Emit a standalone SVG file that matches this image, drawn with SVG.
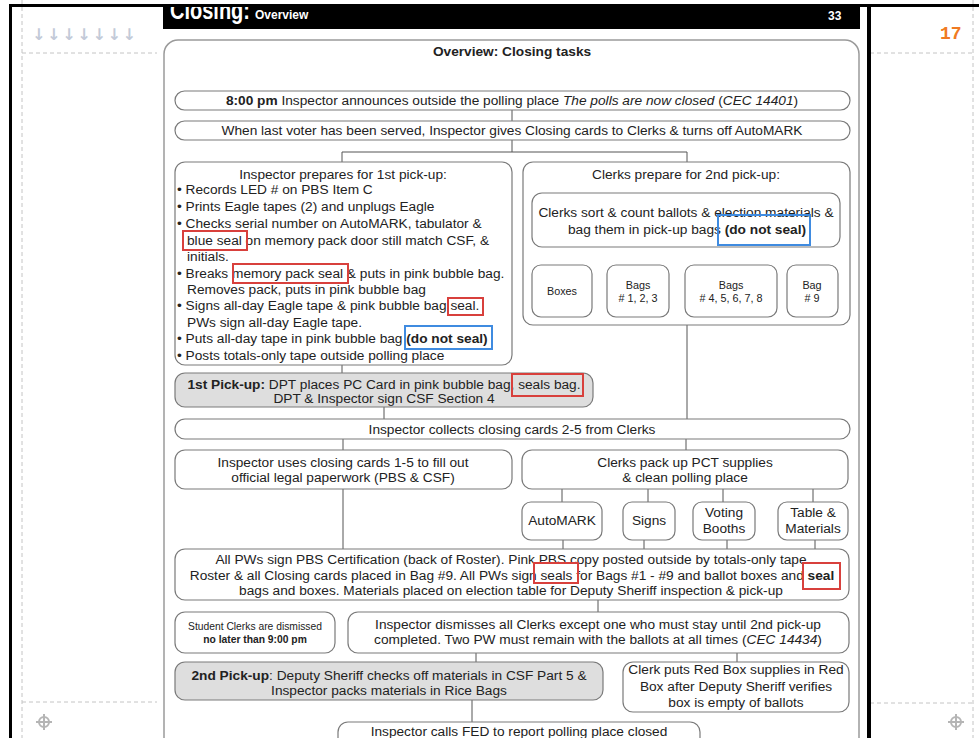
<svg xmlns="http://www.w3.org/2000/svg" width="979" height="738" viewBox="0 0 979 738">
<defs>
<style>
text{font-family:"Liberation Sans",Arial,sans-serif;fill:#222;font-size:13.7px}
.c{text-anchor:middle}
.b{font-weight:bold}
.i{font-style:italic}
.box{fill:#fff;stroke:#7a7a7a;stroke-width:1.2}
.gbox{fill:#dedede;stroke:#7a7a7a;stroke-width:1.2}
.red{fill:none;stroke:#d8403c;stroke-width:2}
.blue{fill:none;stroke:#3f8be0;stroke-width:2}
.dash{stroke:#c4c4c4;stroke-width:1;stroke-dasharray:4 3;fill:none}
#connectors line,#connectors path{stroke:#555;stroke-width:1;fill:none}
.sm{font-size:10.8px}
</style>
<marker id="ah" viewBox="0 0 6 6" refX="3" refY="6" markerWidth="6" markerHeight="6" orient="auto" markerUnits="userSpaceOnUse">
<path d="M0,0 L6,0 L3,6 Z" fill="#333"/>
</marker>
<clipPath id="hdr"><rect x="163" y="7" width="697" height="22"/></clipPath>
</defs>
<rect width="979" height="738" fill="#fff"/>

<!-- outer page chrome -->
<g id="chrome">
<line class="dash" x1="22" y1="0" x2="22" y2="738"/>
<line class="dash" x1="973" y1="0" x2="973" y2="738"/>
<line class="dash" x1="22" y1="53" x2="157" y2="53"/>
<line class="dash" x1="870" y1="53" x2="973" y2="53"/>
<line class="dash" x1="22" y1="702" x2="157" y2="702"/>
<line class="dash" x1="870" y1="703" x2="973" y2="703"/>
<text x="32" y="40" style="fill:#c3cad8;font-size:16px;font-weight:bold;font-family:'DejaVu Sans',sans-serif" textLength="104" lengthAdjust="spacing">↓↓↓↓↓↓↓</text>
<text x="940" y="39" style="fill:#f07a22;font-size:18px;font-weight:bold;font-family:'Liberation Mono','DejaVu Sans Mono',monospace">17</text>
<g stroke="#b5b5b5" stroke-width="2" fill="none">
<circle cx="44" cy="722" r="5"/><line x1="36" y1="722" x2="52" y2="722"/><line x1="44" y1="714" x2="44" y2="730"/>
<circle cx="956" cy="722" r="5"/><line x1="948" y1="722" x2="964" y2="722"/><line x1="956" y1="714" x2="956" y2="730"/>
</g>
<rect x="9" y="4" width="970" height="3" fill="#000"/>
<rect x="9" y="4" width="3" height="734" fill="#000"/>
<rect x="867" y="4" width="4" height="734" fill="#000"/>
<rect x="163" y="4" width="697" height="25" fill="#000"/>
<g clip-path="url(#hdr)">
<text x="170" y="19" style="fill:#fff;font-size:25px;font-weight:bold" textLength="80" lengthAdjust="spacingAndGlyphs">Closing:</text>
</g>
<text x="255" y="19" style="fill:#fff;font-size:12px;font-weight:bold">Overview</text>
<text x="828" y="20" style="fill:#fff;font-size:12px;font-weight:bold">33</text>
<rect x="164" y="40" width="695" height="730" rx="14" fill="#fff" stroke="#9a9a9a" stroke-width="1.5"/>
<text class="c b" x="512" y="56">Overview: Closing tasks</text>
</g>

<g id="connectors">
<line x1="512" y1="110" x2="512" y2="121"/>
<path d="M512,140 V152 M342,162 V152 H687 V162"/>
<line x1="342" y1="365" x2="342" y2="373"/>
<line x1="687" y1="325" x2="687" y2="419"/>
<line x1="384" y1="407" x2="384" y2="419"/>
<line x1="343" y1="439" x2="343" y2="450"/>
<line x1="686" y1="439" x2="686" y2="450"/>
<line x1="343" y1="489" x2="343" y2="549"/>
<line x1="562" y1="489" x2="562" y2="502"/>
<line x1="648" y1="489" x2="648" y2="502"/>
<line x1="723" y1="489" x2="723" y2="502"/>
<line x1="813" y1="489" x2="813" y2="502"/>
<line x1="563" y1="540" x2="563" y2="549"/>
<line x1="644" y1="540" x2="644" y2="549"/>
<line x1="727" y1="540" x2="727" y2="549"/>
<line x1="815" y1="540" x2="815" y2="549"/>
<line x1="598" y1="600" x2="598" y2="612"/>
<line x1="476" y1="653" x2="476" y2="662"/>
<line x1="737" y1="653" x2="737" y2="662"/>
<line x1="472" y1="700" x2="472" y2="722"/>
<line x1="562" y1="247" x2="562" y2="262" marker-end="url(#ah)"/>
<line x1="639" y1="247" x2="639" y2="262" marker-end="url(#ah)"/>
<line x1="730" y1="247" x2="730" y2="262" marker-end="url(#ah)"/>
<line x1="813" y1="247" x2="813" y2="262" marker-end="url(#ah)"/>
</g>

<g id="n-announce">
<rect class="box" x="175" y="91" width="675" height="19" rx="9.5"/>
<text class="c" x="512" y="105"><tspan class="b">8:00 pm</tspan> Inspector announces outside the polling place <tspan class="i">The polls are now closed</tspan> (<tspan class="i">CEC 14401</tspan>)</text>
</g>
<g id="n-lastvoter">
<rect class="box" x="175" y="121" width="675" height="19" rx="9.5"/>
<text class="c" x="512" y="135">When last voter has been served, Inspector gives Closing cards to Clerks &amp; turns off AutoMARK</text>
</g>

<g id="n-insp1">
<rect class="box" x="175" y="162" width="337" height="203" rx="10"/>
<text class="c" x="343" y="179">Inspector prepares for 1st pick-up:</text>
<text x="177" y="194">• Records LED # on PBS Item C</text>
<text x="177" y="211">• Prints Eagle tapes (2) and unplugs Eagle</text>
<text x="177" y="228">• Checks serial number on AutoMARK, tabulator &amp;</text>
<text x="187" y="245">blue seal on memory pack door still match CSF, &amp;</text>
<text x="187" y="261">initials.</text>
<text x="177" y="278">• Breaks memory pack seal &amp; puts in pink bubble bag.</text>
<text x="187" y="294">Removes  pack, puts in pink bubble bag</text>
<text x="177" y="310">• Signs all-day Eagle tape &amp; pink bubble bag seal.</text>
<text x="187" y="327">PWs sign all-day Eagle tape.</text>
<text x="177" y="343">• Puts all-day tape in pink bubble bag <tspan class="b">(do not seal)</tspan></text>
<text x="177" y="360">• Posts totals-only tape outside polling place</text>
<rect class="red" x="183" y="231" width="64" height="19"/>
<rect class="red" x="233" y="264" width="115" height="19"/>
<rect class="red" x="448" y="298" width="35" height="17"/>
<rect class="blue" x="405" y="326" width="87" height="23"/>
</g>

<g id="n-clerks2">
<rect class="box" x="523" y="162" width="327" height="163" rx="10"/>
<text class="c" x="686" y="179">Clerks prepare for 2nd pick-up:</text>
</g>
<g id="n-sort">
<rect class="box" x="532" y="193" width="308" height="54" rx="10"/>
<text class="c" x="686" y="217">Clerks sort &amp; count ballots &amp; election materials &amp;</text>
<text class="c" x="687" y="234">bag them in pick-up bags <tspan class="b">(do not seal)</tspan></text>
<rect class="blue" x="718" y="215" width="92" height="30"/>
</g>
<g id="n-boxes">
<rect class="box" x="532" y="265" width="60" height="52" rx="9"/>
<text class="c sm" x="562" y="295">Boxes</text>
</g>
<g id="n-bags123">
<rect class="box" x="607" y="265" width="62" height="52" rx="9"/>
<text class="c sm" x="638" y="289">Bags</text>
<text class="c sm" x="638" y="302"># 1, 2, 3</text>
</g>
<g id="n-bags48">
<rect class="box" x="685" y="265" width="92" height="52" rx="9"/>
<text class="c sm" x="731" y="289">Bags</text>
<text class="c sm" x="731" y="302"># 4, 5, 6, 7, 8</text>
</g>
<g id="n-bag9">
<rect class="box" x="787" y="265" width="51" height="52" rx="9"/>
<text class="c sm" x="812" y="289">Bag</text>
<text class="c sm" x="812" y="302"># 9</text>
</g>

<g id="n-pickup1">
<rect class="gbox" x="175" y="373" width="418" height="34" rx="10"/>
<text class="c" x="384" y="389"><tspan class="b">1st Pick-up:</tspan> DPT places PC Card in pink bubble bag, seals bag.</text>
<text class="c" x="384" y="403">DPT &amp; Inspector sign CSF Section 4</text>
<rect class="red" x="512" y="374" width="71" height="22"/>
</g>

<g id="n-collect">
<rect class="box" x="175" y="419" width="675" height="20" rx="10"/>
<text class="c" x="512" y="434">Inspector collects closing cards 2-5 from Clerks</text>
</g>

<g id="n-paperwork">
<rect class="box" x="175" y="450" width="337" height="39" rx="10"/>
<text class="c" x="343" y="467">Inspector uses closing cards 1-5 to fill out</text>
<text class="c" x="343" y="482">official legal paperwork (PBS &amp; CSF)</text>
</g>
<g id="n-packup">
<rect class="box" x="522" y="450" width="326" height="39" rx="10"/>
<text class="c" x="685" y="467">Clerks pack up PCT supplies</text>
<text class="c" x="685" y="482">&amp; clean polling place</text>
</g>
<g id="n-automark">
<rect class="box" x="522" y="502" width="80" height="38" rx="9"/>
<text class="c" x="562" y="525">AutoMARK</text>
</g>
<g id="n-signs">
<rect class="box" x="623" y="502" width="52" height="38" rx="9"/>
<text class="c" x="649" y="525">Signs</text>
</g>
<g id="n-booths">
<rect class="box" x="693" y="502" width="62" height="38" rx="9"/>
<text class="c" x="724" y="517">Voting</text>
<text class="c" x="724" y="533">Booths</text>
</g>
<g id="n-table">
<rect class="box" x="778" y="502" width="70" height="38" rx="9"/>
<text class="c" x="813" y="517">Table &amp;</text>
<text class="c" x="813" y="533">Materials</text>
</g>

<g id="n-certify">
<rect class="box" x="175" y="549" width="674" height="51" rx="10"/>
<text class="c" x="511" y="564">All PWs sign PBS Certification (back of Roster). Pink PBS copy posted outside by totals-only tape</text>
<text class="c" x="512" y="580">Roster &amp; all Closing cards placed in Bag #9. All PWs sign seals for Bags #1 - #9 and ballot boxes and <tspan class="b">seal</tspan></text>
<text class="c" x="511" y="595">bags and boxes. Materials placed on election table for Deputy Sheriff inspection &amp; pick-up</text>
<rect class="red" x="534" y="563" width="44" height="20"/>
<rect class="red" x="803" y="563" width="37" height="26"/>
</g>

<g id="n-students">
<rect class="box" x="175" y="612" width="160" height="41" rx="10"/>
<text class="c" x="255" y="630" style="font-size:10.3px">Student Clerks are dismissed</text>
<text class="c b" x="255" y="643" style="font-size:10.3px">no later than 9:00 pm</text>
</g>
<g id="n-dismiss">
<rect class="box" x="348" y="612" width="501" height="41" rx="10"/>
<text class="c" x="598" y="629">Inspector dismisses all Clerks except one who must stay until 2nd pick-up</text>
<text class="c" x="598" y="644">completed. Two PW must remain with the ballots at all times (<tspan class="i">CEC 14434</tspan>)</text>
</g>

<g id="n-pickup2">
<rect class="gbox" x="175" y="662" width="428" height="38" rx="10"/>
<text class="c" x="389" y="680"><tspan class="b">2nd Pick-up</tspan>: Deputy Sheriff checks off materials in CSF Part 5 &amp;</text>
<text class="c" x="389" y="695">Inspector packs materials in Rice Bags</text>
</g>
<g id="n-redbox">
<rect class="box" x="623" y="662" width="226" height="50" rx="10"/>
<text class="c" x="736" y="674">Clerk puts Red Box supplies in Red</text>
<text class="c" x="736" y="691">Box after Deputy Sheriff verifies</text>
<text class="c" x="736" y="707">box is empty of ballots</text>
</g>
<g id="n-fed">
<rect class="box" x="338" y="722" width="362" height="30" rx="10"/>
<text class="c" x="519" y="736">Inspector calls FED to report polling place closed</text>
</g>
</svg>
